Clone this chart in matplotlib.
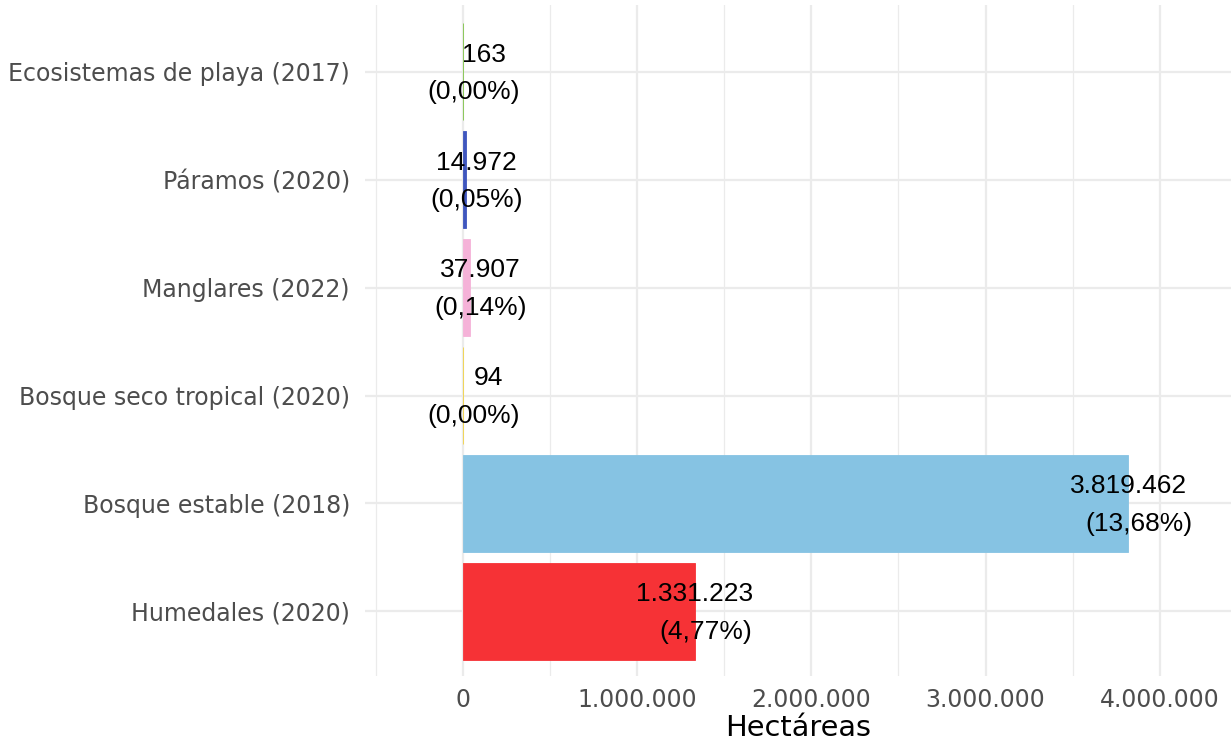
import numpy as np
import matplotlib
matplotlib.use("Agg")
import matplotlib.pyplot as plt
from matplotlib.ticker import FuncFormatter, MultipleLocator
import matplotlib.transforms as mtransforms

# datos (de abajo hacia arriba)
categorias = ["Humedales (2020)", "Bosque estable (2018)", "Bosque seco tropical (2020)",
              "Manglares (2022)", "Páramos (2020)", "Ecosistemas de playa (2017)"]
hectareas = [1331223, 3819462, 94, 37907, 14972, 163]
porcentajes = [4.77, 13.68, 0.00, 0.14, 0.05, 0.00]
colores = ["#F63236", "#86C3E3", "#F2D13F", "#F5B2D8", "#3F56BE", "#7CC242"]


def miles(v):
    return f"{int(round(v)):,}".replace(",", ".")


def pct(p):
    return f"({p:.2f}%)".replace(".", ",")


fig = plt.figure(figsize=(12.31, 7.41), dpi=100)
ax = fig.add_axes([365 / 1231, 1 - 676 / 741, 1 - 365 / 1231, (676 - 5) / 741])

y = np.arange(len(categorias))
ax.barh(y, hectareas, height=0.9, color=colores, edgecolor=colores, linewidth=0.6, zorder=2)

ax.set_xlim(-562600, 4409000)
ax.set_ylim(-0.6, 5.62)
ax.set_yticks(y)
ax.set_yticklabels(categorias)
ax.xaxis.set_major_locator(MultipleLocator(1000000))
ax.xaxis.set_minor_locator(MultipleLocator(500000))
ax.xaxis.set_major_formatter(FuncFormatter(lambda v, p: miles(v)))

for s in ax.spines.values():
    s.set_visible(False)
ax.tick_params(axis="both", which="both", length=0, labelsize=17, labelcolor="#4D4D4D")
ax.tick_params(axis="x", pad=8.5)
ax.tick_params(axis="y", pad=10.8)
ax.grid(True, which="major", color="#EBEBEB", lw=1.6, zorder=0)
ax.grid(True, which="minor", axis="x", color="#EBEBEB", lw=0.9, zorder=0)
ax.set_axisbelow(True)

ax.set_xlabel("Hectáreas", fontsize=20.7, color="black", labelpad=1.5)

# etiquetas de datos en dos renglones
fig.canvas.draw()
renderer = fig.canvas.get_renderer()
for yi, h, p in zip(y, hectareas, porcentajes):
    t1 = ax.text(h, yi + 0.16, miles(h), ha="center", va="center",
                 fontsize=19, family="Liberation Sans", color="black", zorder=3)
    w = t1.get_window_extent(renderer).width
    dx = (34 - 0.29 * w) * 72 / 100
    t1.set_transform(mtransforms.offset_copy(ax.transData, fig=fig, x=dx, y=0, units="points"))
    ax.text(h, yi - 0.19, pct(p), ha="center", va="center", fontsize=19,
            family="Liberation Sans", color="black", zorder=3,
            transform=mtransforms.offset_copy(ax.transData, fig=fig, x=7.9, y=0, units="points"))

fig.savefig("out.png", dpi=100)
